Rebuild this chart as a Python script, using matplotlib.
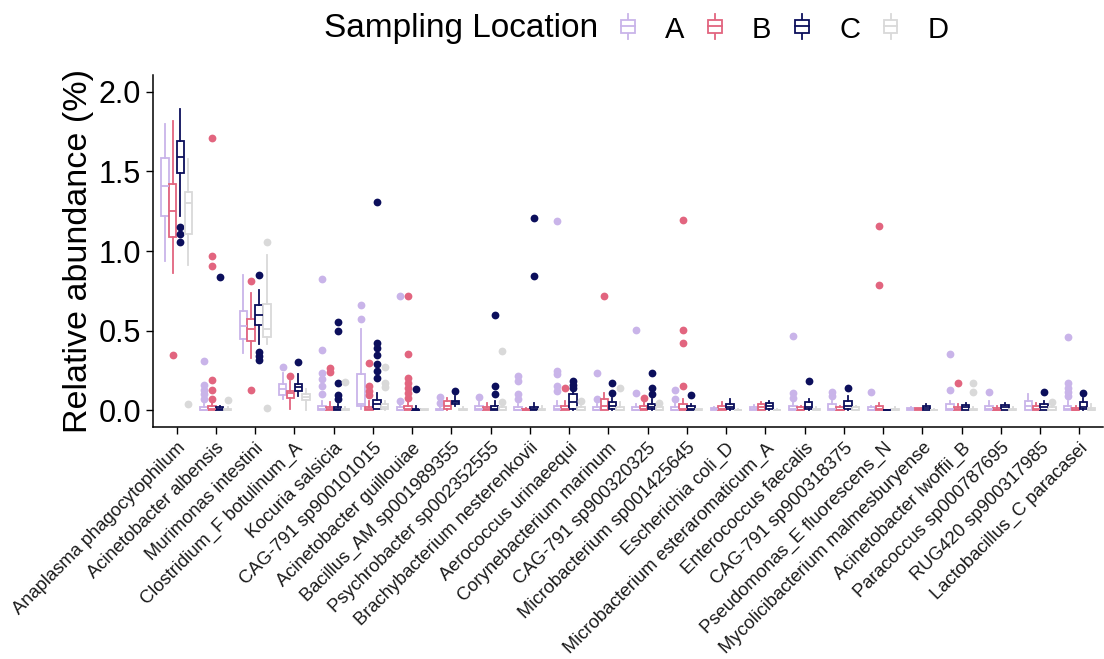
import matplotlib
matplotlib.use('Agg')
import matplotlib.pyplot as plt
import matplotlib.patches as mpatches
import matplotlib.lines as mlines
from matplotlib.legend_handler import HandlerBase
import numpy as np

plt.rcParams['font.family'] = ['Liberation Sans', 'DejaVu Sans']

# ── Data ──────────────────────────────────────────────────────────────────────
SPECIES = [
    'Anaplasma phagocytophilum', 'Acinetobacter albensis', 'Murimonas intestini',
    'Clostridium_F botulinum_A', 'Kocuria salsicia', 'CAG-791 sp900101015',
    'Acinetobacter guillouiae', 'Bacillus_AM sp001989355', 'Psychrobacter sp002352555',
    'Brachybacterium nesterenkovii', 'Aerococcus urinaeequi', 'Corynebacterium marinum',
    'CAG-791 sp900320325', 'Microbacterium sp001425645', 'Escherichia coli_D',
    'Microbacterium esteraromaticum_A', 'Enterococcus faecalis', 'CAG-791 sp900318375',
    'Pseudomonas_E fluorescens_N', 'Mycolicibacterium malmesburyense',
    'Acinetobacter lwoffii_B', 'Paracoccus sp000787695', 'RUG420 sp900317985',
    'Lactobacillus_C paracasei',
]
GROUPS = ['A', 'B', 'C', 'D']
COLORS = ['#c9b4e9', '#e2657f', '#0c0f5c', '#d9d9d9']

# five-number summaries per species: (lower whisker, Q1, median, Q3, upper whisker)
box_a = [
    (0.94, 1.22, 1.41, 1.585, 1.80), (0, 0, 0.005, 0.02, 0.04),
    (0.36, 0.448, 0.528, 0.624, 0.85), (0.07, 0.096, 0.132, 0.164, 0.237),
    (0, 0, 0.01, 0.03, 0.06), (0.01, 0.03, 0.04, 0.226, 0.513),
    (0, 0, 0.005, 0.02, 0.04), (0, 0, 0.005, 0.01, 0.03),
    (0, 0, 0.01, 0.03, 0.05), (0, 0, 0.005, 0.02, 0.04),
    (0, 0, 0.01, 0.03, 0.06), (0, 0, 0.005, 0.02, 0.04),
    (0, 0, 0.005, 0.02, 0.04), (0, 0, 0.005, 0.02, 0.05),
    (0, 0.005, 0.01, 0.015, 0.02), (0, 0.005, 0.01, 0.02, 0.035),
    (0, 0, 0.01, 0.03, 0.05), (0, 0, 0.01, 0.04, 0.06),
    (0, 0, 0.005, 0.02, 0.03), (0, 0.005, 0.01, 0.015, 0.02),
    (0, 0, 0.01, 0.04, 0.06), (0, 0, 0.01, 0.03, 0.06),
    (0, 0.005, 0.03, 0.06, 0.10), (0, 0, 0.01, 0.03, 0.06),
]
out_a = [
    [], [0.07, 0.10, 0.13, 0.16, 0.31], [], [0.27],
    [0.105, 0.153, 0.195, 0.237, 0.377, 0.827], [0.576, 0.66], [0.06, 0.716],
    [0.048, 0.084], [0.084], [0.07, 0.10, 0.185, 0.216],
    [0.12, 0.153, 0.226, 0.247, 1.187], [0.07, 0.237], [0.11, 0.503],
    [0.07, 0.126], [], [], [0.08, 0.11, 0.467], [0.09, 0.117], [0.115], [],
    [0.126, 0.352], [0.115], [], [0.09, 0.115, 0.143, 0.174, 0.463],
]

box_b = [
    (0.86, 1.09, 1.25, 1.42, 1.82), (0, 0, 0.01, 0.03, 0.05),
    (0.33, 0.436, 0.513, 0.576, 0.737), (0.006, 0.08, 0.11, 0.12, 0.185),
    (0, 0, 0.01, 0.02, 0.05), (0, 0, 0.01, 0.02, 0.06),
    (0, 0, 0.01, 0.03, 0.05), (0, 0.01, 0.03, 0.06, 0.08),
    (0, 0, 0.01, 0.02, 0.048), (0, 0, 0.003, 0.01, 0.013),
    (0, 0, 0.01, 0.03, 0.06), (0, 0, 0.03, 0.07, 0.11),
    (0, 0, 0.01, 0.03, 0.05), (0, 0, 0.01, 0.04, 0.07),
    (0, 0.005, 0.01, 0.03, 0.052), (0, 0.005, 0.02, 0.04, 0.05),
    (0, 0, 0.005, 0.02, 0.03), (0, 0, 0.005, 0.02, 0.03),
    (0, 0, 0.01, 0.03, 0.045), (0, 0.003, 0.008, 0.012, 0.015),
    (0, 0, 0.01, 0.02, 0.04), (0, 0, 0.005, 0.015, 0.03),
    (0, 0, 0.01, 0.03, 0.048), (0, 0, 0.005, 0.015, 0.03),
]
out_b = [
    [0.345], [0.07, 0.13, 0.19, 0.907, 0.97, 1.71], [0.126, 0.81], [0.216],
    [0.243, 0.268], [0.096, 0.12, 0.153, 0.30],
    [0.08, 0.11, 0.143, 0.174, 0.205, 0.356, 0.716], [], [], [], [0.143], [0.716],
    [0.08], [0.153, 0.425, 0.503, 1.198], [], [], [], [], [0.786, 1.16], [],
    [0.174], [], [], [],
]

box_c = [
    (1.22, 1.49, 1.59, 1.69, 1.89), (0, 0, 0.01, 0.02, 0.03),
    (0.415, 0.534, 0.60, 0.66, 0.754), (0.09, 0.12, 0.147, 0.164, 0.226),
    (0, 0, 0.01, 0.02, 0.04), (0.01, 0.01, 0.04, 0.067, 0.11),
    (0, 0, 0.005, 0.01, 0.03), (0.03, 0.04, 0.05, 0.06, 0.09),
    (0, 0, 0.01, 0.03, 0.06), (0, 0, 0.01, 0.02, 0.048),
    (0, 0.01, 0.05, 0.10, 0.12), (0, 0.01, 0.03, 0.05, 0.08),
    (0, 0.01, 0.02, 0.04, 0.07), (0, 0, 0.01, 0.03, 0.04),
    (0, 0.01, 0.02, 0.04, 0.07), (0, 0.01, 0.03, 0.045, 0.06),
    (0, 0.01, 0.02, 0.05, 0.07), (0, 0.01, 0.03, 0.06, 0.09),
    (0, 0, 0.001, 0.003, 0.005), (0, 0.005, 0.015, 0.03, 0.04),
    (0, 0.005, 0.02, 0.035, 0.048), (0, 0.005, 0.02, 0.035, 0.048),
    (0, 0.005, 0.02, 0.04, 0.06), (0, 0.01, 0.02, 0.05, 0.08),
]
out_c = [
    [1.055, 1.105, 1.15], [0.84], [0.314, 0.34, 0.366, 0.85], [0.304],
    [0.07, 0.096, 0.174, 0.50, 0.555], [0.20, 0.25, 0.29, 0.35, 0.39, 0.42, 1.31],
    [0.132], [0.12], [0.105, 0.153, 0.60], [0.846, 1.21], [0.14, 0.16, 0.185],
    [0.11, 0.174], [0.10, 0.143, 0.237], [0.096], [], [], [0.185], [0.143], [], [],
    [], [], [0.115], [0.11],
]

box_d = [
    (0.91, 1.105, 1.30, 1.37, 1.58), (0, 0, 0.005, 0.01, 0.02),
    (0.415, 0.46, 0.513, 0.666, 0.974), (0.0, 0.063, 0.084, 0.10, 0.132),
    (0, 0, 0.005, 0.01, 0.02), (0, 0.01, 0.02, 0.04, 0.06),
    (0, 0, 0.003, 0.006, 0.01), (0, 0, 0.005, 0.01, 0.02),
    (0, 0, 0.005, 0.02, 0.03), (0, 0, 0.005, 0.01, 0.03),
    (0, 0, 0.005, 0.02, 0.03), (0, 0, 0.005, 0.02, 0.05),
    (0, 0, 0.005, 0.02, 0.03), (0, 0, 0.003, 0.008, 0.01),
    (0, 0, 0.003, 0.005, 0.01), (0, 0, 0.003, 0.005, 0.01),
    (0, 0, 0.005, 0.01, 0.02), (0, 0, 0.005, 0.02, 0.03),
    (0, 0, 0.003, 0.01, 0.02), (0, 0, 0.003, 0.005, 0.01),
    (0, 0, 0.003, 0.01, 0.02), (0, 0, 0.003, 0.01, 0.02),
    (0, 0, 0.005, 0.02, 0.03), (0, 0, 0.005, 0.015, 0.038),
]
out_d = [
    [0.04], [0.065], [0.015, 1.058], [], [0.18], [0.147, 0.17, 0.27], [], [],
    [0.055, 0.373], [], [0.06], [0.143], [0.048], [], [], [], [], [], [], [],
    [0.115, 0.174], [], [0.052], [],
]

BOXES = [box_a, box_b, box_c, box_d]
OUTLIERS = [out_a, out_b, out_c, out_d]


# ── Legend key: a small boxplot glyph ─────────────────────────────────────────
class BoxKey(HandlerBase):
    def create_artists(self, legend, orig_handle, xd, yd, width, height,
                       fontsize, trans):
        c = orig_handle.get_edgecolor()
        cx = xd + width / 2
        bw = width * 0.45
        y0, y1 = yd - height * 0.1, yd + height * 1.1
        b0, b1 = yd + height * 0.2, yd + height * 0.8
        lw = 1.3
        arts = [
            mlines.Line2D([cx, cx], [y0, b0], color=c, lw=lw, transform=trans),
            mlines.Line2D([cx, cx], [b1, y1], color=c, lw=lw, transform=trans),
            mpatches.Rectangle((cx - bw / 2, b0), bw, b1 - b0, facecolor='white',
                               edgecolor=c, lw=lw, transform=trans),
            mlines.Line2D([cx - bw / 2, cx + bw / 2], [yd + height / 2] * 2,
                          color=c, lw=lw, transform=trans),
        ]
        return arts


# ── Figure ────────────────────────────────────────────────────────────────────
fig = plt.figure(figsize=(11.04, 6.59), dpi=100)
ax = fig.add_axes([0.1386, 0.352, 0.8605, 0.534])

x = np.arange(len(SPECIES))
offsets = [-0.3, -0.1, 0.1, 0.3]

for boxes, outs, col, off in zip(BOXES, OUTLIERS, COLORS, offsets):
    stats = [dict(whislo=b[0], q1=b[1], med=b[2], q3=b[3], whishi=b[4], fliers=o)
             for b, o in zip(boxes, outs)]
    ax.bxp(stats, positions=x + off, widths=0.19, patch_artist=True,
           showcaps=False, manage_ticks=False,
           boxprops=dict(facecolor='white', edgecolor=col, linewidth=1.3),
           whiskerprops=dict(color=col, linewidth=1.3),
           medianprops=dict(color=col, linewidth=1.3),
           flierprops=dict(marker='o', markerfacecolor=col,
                           markeredgecolor='none', markersize=5.6))

ax.set_xlim(-0.6, len(SPECIES) - 0.4)
ax.set_ylim(-0.105, 2.105)
ax.set_yticks([0.0, 0.5, 1.0, 1.5, 2.0])
ax.set_yticklabels(['0.0', '0.5', '1.0', '1.5', '2.0'])
ax.set_xticks(x)
ax.set_xticklabels(SPECIES, rotation=45, ha='right', va='top',
                   rotation_mode='anchor', fontsize=13.2, color='#1a1a1a')
ax.tick_params(axis='y', labelsize=22, length=5, width=1.0, colors='black')
ax.tick_params(axis='x', length=5, width=1.0, pad=4)
ax.set_ylabel('Relative abundance (%)', fontsize=24.5, labelpad=3)

for side in ('top', 'right'):
    ax.spines[side].set_visible(False)
for side in ('left', 'bottom'):
    ax.spines[side].set_linewidth(1.1)

# Legend across the top
fig.text(0.2935, 0.957, 'Sampling Location', ha='left', va='center', fontsize=24)
handles = [mpatches.Patch(facecolor='white', edgecolor=c) for c in COLORS]
fig.legend(handles, GROUPS, loc='center left', bbox_to_anchor=(0.5556, 0.955),
           ncol=4, frameon=False, fontsize=21, handlelength=1.0,
           handleheight=0.75, handletextpad=0.77, columnspacing=0.55,
           borderpad=0, borderaxespad=0,
           handler_map={mpatches.Patch: BoxKey()})

fig.savefig('out.png', dpi=100)
